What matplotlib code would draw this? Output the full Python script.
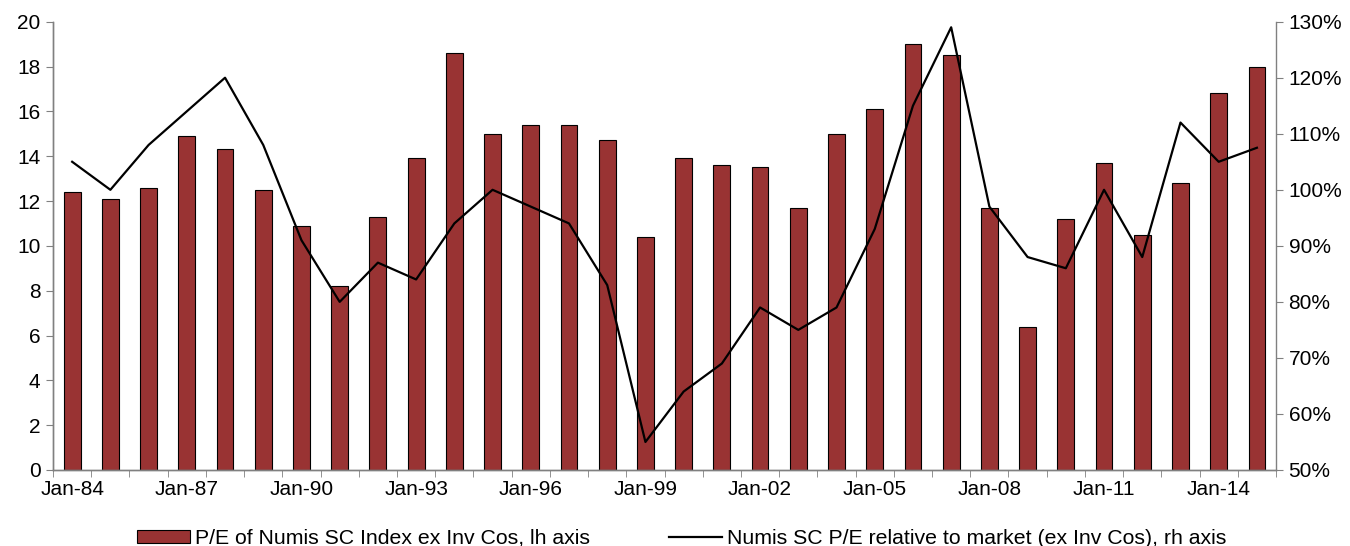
import numpy as np
import matplotlib
matplotlib.use("Agg")
import matplotlib.pyplot as plt
from matplotlib.ticker import FuncFormatter, MultipleLocator

# ==========================================
# DATA
# ==========================================

years = list(range(1984, 2016))

labels = ["Jan-%02d" % (y % 100) for y in years]

pe_index = [
    12.4, 12.1, 12.6, 14.9, 14.3, 12.5, 10.9, 8.2,
    11.3, 13.9, 18.6, 15.0, 15.4, 15.4, 14.7, 10.4,
    13.9, 13.6, 13.5, 11.7, 15.0, 16.1, 19.0, 18.5,
    11.7, 6.4, 11.2, 13.7, 10.5, 12.8, 16.8, 18.0,
]

pe_relative = [
    105.0, 100.0, 108.0, 114.0, 120.0, 108.0, 91.0, 80.0,
    87.0, 84.0, 94.0, 100.0, 97.0, 94.0, 83.0, 55.0,
    64.0, 69.0, 79.0, 75.0, 79.0, 93.0, 115.0, 129.0,
    97.0, 88.0, 86.0, 100.0, 88.0, 112.0, 105.0, 107.5,
]

BAR_COLOR = "#993333"
AXIS_GREY = "#808080"

plt.rcParams["font.family"] = ["Liberation Sans", "DejaVu Sans"]
plt.rcParams["font.size"] = 15

# ==========================================
# PLOT
# ==========================================

fig = plt.figure(figsize=(13.5, 5.46), dpi=100)

ax = fig.add_axes([0.0393, 0.1392, 0.9059, 0.8211])

x = np.arange(len(years))

bars = ax.bar(
    x,
    pe_index,
    width=0.44,
    color=BAR_COLOR,
    edgecolor="black",
    linewidth=0.8,
    label="P/E of Numis SC Index ex Inv Cos, lh axis",
    zorder=2
)

ax.set_xlim(-0.5, len(years) - 0.5)
ax.set_ylim(0, 20)
ax.yaxis.set_major_locator(MultipleLocator(2))

ax.set_xticks(x[::3])
ax.set_xticklabels(labels[::3])
ax.set_xticks(np.arange(len(years) + 1) - 0.5, minor=True)
ax.tick_params(axis="x", which="major", length=0, pad=7)
ax.tick_params(axis="x", which="minor", length=5, color=AXIS_GREY, direction="out")
ax.tick_params(axis="y", length=5, color=AXIS_GREY, direction="out", pad=4)

ax2 = ax.twinx()

line, = ax2.plot(
    x,
    pe_relative,
    color="black",
    linewidth=1.6,
    label="Numis SC P/E relative to market (ex Inv Cos), rh axis",
    zorder=3
)

ax2.set_ylim(50, 130)
ax2.yaxis.set_major_locator(MultipleLocator(10))
ax2.yaxis.set_major_formatter(FuncFormatter(lambda v, p: "%d%%" % v))
ax2.tick_params(axis="y", length=5, color=AXIS_GREY, direction="out", pad=4)

for a in (ax, ax2):
    a.spines["top"].set_visible(False)
    for s in ("left", "right", "bottom"):
        a.spines[s].set_color(AXIS_GREY)
        a.spines[s].set_linewidth(1.0)

ax.spines["right"].set_visible(False)

# ==========================================
# LEGEND
# ==========================================

fig.legend(
    [bars, line],
    [bars.get_label(), line.get_label()],
    loc="center",
    bbox_to_anchor=(0.505, 0.014),
    ncol=2,
    frameon=False,
    handlelength=2.5,
    handleheight=0.6,
    handletextpad=0.25,
    columnspacing=3.7,
    fontsize=15.3
)

fig.savefig("out.png", dpi=100)
